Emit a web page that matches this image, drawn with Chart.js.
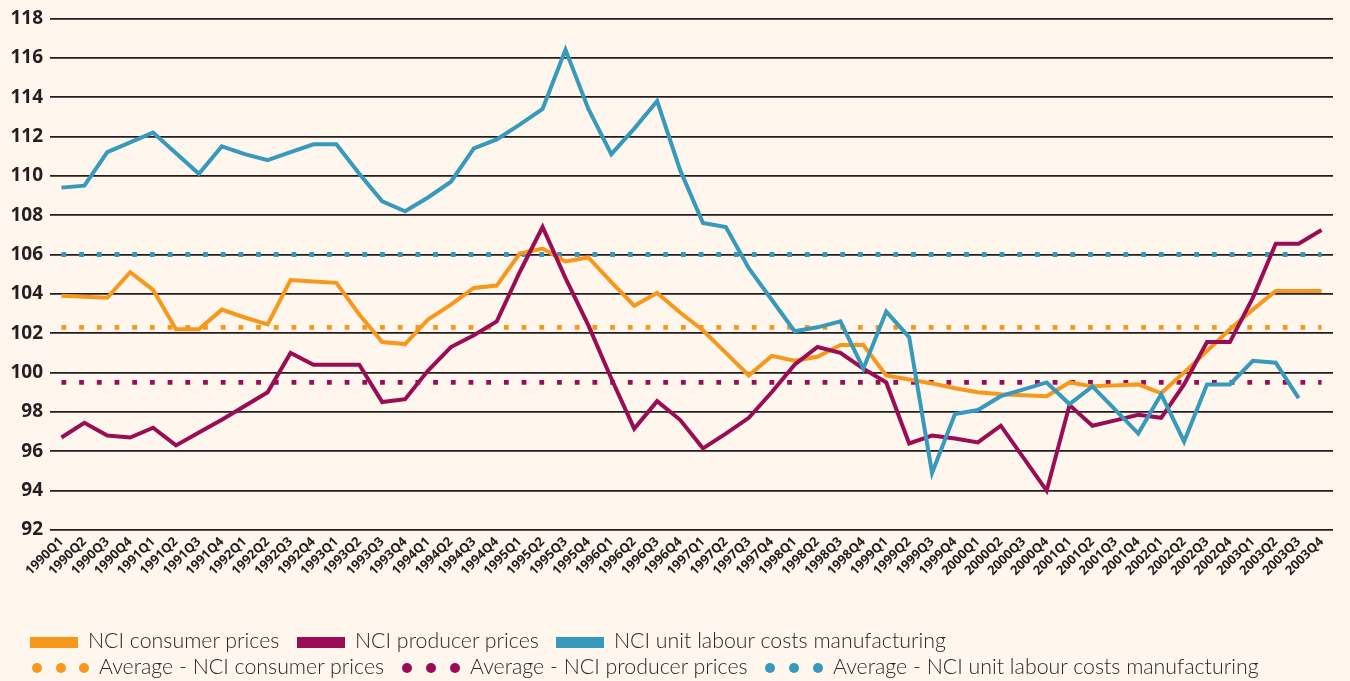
<!DOCTYPE html>
<html><head><meta charset="utf-8">
<script src="https://cdn.jsdelivr.net/npm/chart.js@4/dist/chart.umd.min.js"></script>
<style>
html,body{margin:0;padding:0;background:#FFF6ED;}
#wrap{position:relative;width:1350px;height:681px;overflow:hidden;background:#FFF6ED;}
canvas{position:absolute;left:0;top:0;}
.lg{position:absolute;font-family:Lato,'Open Sans',sans-serif;font-weight:300;color:#2a2526;white-space:nowrap;line-height:1.2;transform:translateY(-50%);}
.sw{position:absolute;height:11px;width:48px;}
.dot{position:absolute;width:10px;height:10px;border-radius:50%;transform:translate(-50%,-50%);}
</style></head>
<body><div id="wrap"><canvas id="c" width="1350" height="681"></canvas><div id="legend"></div></div>
<script>
const categories = ['1990Q1','1990Q2','1990Q3','1990Q4','1991Q1','1991Q2','1991Q3','1991Q4',
'1992Q1','1992Q2','1992Q3','1992Q4','1993Q1','1993Q2','1993Q3','1993Q4',
'1994Q1','1994Q2','1994Q3','1994Q4','1995Q1','1995Q2','1995Q3','1995Q4',
'1996Q1','1996Q2','1996Q3','1996Q4','1997Q1','1997Q2','1997Q3','1997Q4',
'1998Q1','1998Q2','1998Q3','1998Q4','1999Q1','1999Q2','1999Q3','1999Q4',
'2000Q1','2000Q2','2000Q3','2000Q4','2001Q1','2001Q2','2001Q3','2001Q4',
'2002Q1','2002Q2','2002Q3','2002Q4','2003Q1','2003Q2','2003Q3','2003Q4'];

const consumerPrices = [103.9,103.85,103.8,105.1,104.2,102.2,102.2,103.2,102.8,102.45,104.7,104.63,104.56,102.95,101.55,101.45,
102.7,103.45,104.3,104.42,106.05,106.3,105.65,105.85,104.6,103.4,104.05,103.05,102.15,101.0,99.85,100.85,
100.6,100.8,101.4,101.4,99.85,99.65,99.45,99.2,99.0,98.9,98.85,98.8,99.5,99.3,99.35,99.4,
98.95,100.0,101.1,102.2,103.2,104.15,104.15,104.15];

const producerPrices = [96.7,97.45,96.8,96.7,97.2,96.3,96.95,97.6,98.3,99.0,101.0,100.4,100.4,100.4,98.5,98.65,
100.1,101.3,101.9,102.6,105.1,107.4,104.8,102.4,99.7,97.15,98.55,97.6,96.15,96.9,97.7,99.0,
100.4,101.3,101.0,100.2,99.5,96.4,96.8,96.65,96.45,97.3,95.65,94.0,98.35,97.3,97.57,97.85,
97.7,99.4,101.55,101.55,103.8,106.55,106.55,107.25];

const unitLabourCosts = [109.4,109.5,111.2,111.7,112.2,111.15,110.1,111.5,111.1,110.8,111.2,111.6,111.6,110.1,108.7,108.2,
108.9,109.7,111.4,111.85,112.6,113.4,116.4,113.4,111.1,112.4,113.8,110.3,107.6,107.4,105.3,103.7,
102.1,102.3,102.6,100.2,103.1,101.8,94.9,97.9,98.1,98.8,99.15,99.5,98.4,99.3,98.1,96.9,
98.9,96.5,99.4,99.4,100.6,100.5,98.7,null];

const avgConsumer = 102.3;
const avgProducer = 99.5;
const avgLabour = 106.0;

const yMin = 92, yMax = 118, yStep = 2;

const seriesNames = ['NCI consumer prices','NCI producer prices','NCI unit labour costs manufacturing'];
const avgNames = ['Average - NCI consumer prices','Average - NCI producer prices','Average - NCI unit labour costs manufacturing'];
const colors = ['#F7981D','#9A0D55','#3799BC'];

const avgLine = v => categories.map(() => v);

const datasets = [
  {label: seriesNames[2], data: unitLabourCosts, borderColor: colors[2], borderWidth: 4, order: 1},
  {label: seriesNames[1], data: producerPrices, borderColor: colors[1], borderWidth: 4, order: 2},
  {label: seriesNames[0], data: consumerPrices, borderColor: colors[0], borderWidth: 4, order: 3},
  {label: avgNames[2], data: avgLine(avgLabour), borderColor: colors[2], borderWidth: 4.8, borderDash:[4.8,12.9], borderCapStyle:'butt', order: 4},
  {label: avgNames[1], data: avgLine(avgProducer), borderColor: colors[1], borderWidth: 4.8, borderDash:[4.8,12.9], borderCapStyle:'butt', order: 5},
  {label: avgNames[0], data: avgLine(avgConsumer), borderColor: colors[0], borderWidth: 4.8, borderDash:[4.8,12.9], borderCapStyle:'butt', order: 6}
];

new Chart(document.getElementById('c'), {
  type: 'line',
  data: {labels: categories, datasets},
  options: {
    responsive: false, animation: false,
    layout: {padding: {top: 17, right: 17, left: 0, bottom: 0}},
    plugins: {legend: {display: false}, tooltip: {enabled: false}},
    elements: {point: {radius: 0}, line: {tension: 0, fill: false}},
    scales: {
      x: {
        offset: true,
        grid: {display: false, drawTicks: false},
        border: {display: false},
        ticks: {autoSkip: false, maxRotation: 45, minRotation: 45, padding: 4,
          font: {family: 'Open Sans', weight: 'bold', size: 13}, color: '#231F20'},
        afterFit(s) { s.height = 681 - 530; }
      },
      y: {
        min: yMin, max: yMax,
        grid: {color: '#231F20', lineWidth: 1.8, drawTicks: false},
        border: {display: false},
        ticks: {stepSize: yStep, padding: 7,
          font: {family: 'Open Sans', weight: 'bold', size: 19}, color: '#231F20'},
        afterFit(s) { s.width = 50; }
      }
    }
  }
});

// HTML legend
const m = document.createElement('canvas').getContext('2d');
m.font = '300 20px Lato';
const fs = 20 * 192 / m.measureText(seriesNames[0]).width;
const lg = document.getElementById('legend');
function add(html){ lg.insertAdjacentHTML('beforeend', html); }
const swX = [30, 297, 556], txX1 = [88, 355, 614];
const dotX = [[36.7,60.5,84.3],[407.3,431.3,455.3],[770,794,818]], txX2 = [99, 470, 833];
for (let i = 0; i < 3; i++) {
  add(`<div class="sw" style="left:${swX[i]}px;top:637px;background:${colors[i]}"></div>`);
  add(`<div class="lg" style="left:${txX1[i]}px;top:640.5px;font-size:${fs}px">${seriesNames[i]}</div>`);
  dotX[i].forEach(x => add(`<div class="dot" style="left:${x}px;top:667.5px;background:${colors[i]}"></div>`));
  add(`<div class="lg" style="left:${txX2[i]}px;top:666.5px;font-size:${fs}px">${avgNames[i]}</div>`);
}
</script>
</body></html>
